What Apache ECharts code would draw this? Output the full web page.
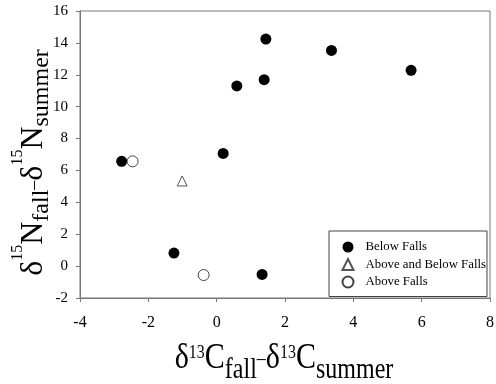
<!DOCTYPE html>
<html><head><meta charset="utf-8">
<script src="https://cdn.jsdelivr.net/npm/echarts@6/dist/echarts.min.js"></script>
<style>html,body{margin:0;padding:0;background:#fff}#c{width:496px;height:384px}</style>
</head><body><div id="c"></div>
<script>
const xTicks = [-4, -2, 0, 2, 4, 6, 8];
const yTicks = [-2, 0, 2, 4, 6, 8, 10, 12, 14, 16];
const seriesNames = ['Below Falls', 'Above and Below Falls', 'Above Falls'];
const belowFalls = [[1.44, 14.24], [3.36, 13.53], [5.69, 12.28], [1.39, 11.69], [0.59, 11.30], [0.19, 7.07], [-2.78, 6.57], [-1.25, 0.82], [1.33, -0.52]];
const aboveAndBelowFalls = [[-1.01, 5.34]];
const aboveFalls = [[-2.46, 6.57], [-0.38, -0.56]];

const FF = "'Liberation Serif','Times New Roman',serif";
const chart = echarts.init(document.getElementById('c'));

const xRich = {
  m: { fontFamily: FF, fontSize: 30, verticalAlign: 'top', padding: [0, 0, 0, 0], color: '#000' },
  sup: { fontFamily: FF, fontSize: 16, verticalAlign: 'top', padding: [2.4, 0, 0, 0], color: '#000' },
  sub: { fontFamily: FF, fontSize: 24, verticalAlign: 'top', padding: [13.3, 0, 0, 0], color: '#000' },
  d: { fontFamily: FF, fontSize: 18, verticalAlign: 'top', padding: [6.4, 0, 0, 0], color: '#000' }
};
const yRich = {
  m: { fontFamily: FF, fontSize: 32, verticalAlign: 'top', padding: [7.8, 0, 0, 0], color: '#000' },
  sup: { fontFamily: FF, fontSize: 16, verticalAlign: 'top', padding: [0, 0, 0, 0], color: '#000' },
  sub: { fontFamily: FF, fontSize: 24, verticalAlign: 'top', padding: [19.5, 0, 0, 0], color: '#000' },
  d: { fontFamily: FF, fontSize: 18, verticalAlign: 'top', padding: [15, 0, 0, 0], color: '#000' }
};

chart.setOption({
  animation: false,
  backgroundColor: '#fff',
  grid: { left: 80, right: 6, top: 11, bottom: 86, outerBoundsMode: 'none', containLabel: false,
          show: true, borderColor: '#777', borderWidth: 1, backgroundColor: 'transparent' },
  xAxis: {
    type: 'value', min: xTicks[0], max: xTicks[xTicks.length - 1], interval: 2,
    axisLine: { show: true, onZero: false, lineStyle: { color: '#777', width: 1 } },
    axisTick: { show: true, inside: false, length: 4, lineStyle: { color: '#777' } },
    axisLabel: { margin: 17, fontFamily: FF, fontSize: 16, color: '#000' },
    splitLine: { show: false }
  },
  yAxis: {
    type: 'value', min: yTicks[0], max: yTicks[yTicks.length - 1], interval: 2,
    axisLine: { show: true, onZero: false, lineStyle: { color: '#777', width: 1 } },
    axisTick: { show: true, inside: false, length: 4, lineStyle: { color: '#777' } },
    axisLabel: { margin: 12, fontFamily: FF, fontSize: 15, color: '#000' },
    splitLine: { show: false }
  },
  legend: {
    orient: 'vertical', left: 329, top: 231, padding: [9.5, 1, 8, 12.5],
    itemWidth: 11, itemHeight: 11, itemGap: 4.5,
    backgroundColor: '#fff', borderColor: '#444', borderWidth: 1, borderRadius: 0,
    textStyle: { fontFamily: FF, fontSize: 12.8, color: '#000', padding: [0, 0, 0, 7] },
    selectedMode: false,
    data: seriesNames
  },
  series: [
    { name: seriesNames[0], type: 'scatter', data: belowFalls, symbol: 'circle', symbolSize: 11,
      itemStyle: { color: '#000', borderWidth: 0, opacity: 1 } },
    { name: seriesNames[1], type: 'scatter', data: aboveAndBelowFalls, symbol: 'triangle', symbolSize: 10,
      itemStyle: { color: '#fff', borderColor: '#555', borderWidth: 1, opacity: 1 } },
    { name: seriesNames[2], type: 'scatter', data: aboveFalls, symbol: 'circle', symbolSize: 11,
      itemStyle: { color: '#fff', borderColor: '#444', borderWidth: 1, opacity: 1 } }
  ],
  graphic: [
    { type: 'text', x: 284, y: 362.8, scaleY: 1.2, z: 100,
      style: { text: '{m|δ}{sup|13}{m|C}{sub|fall}{d|–}{m|δ}{sup|13}{m|C}{sub|summer}',
               rich: xRich, align: 'center', verticalAlign: 'middle' } },
    { type: 'text', x: 32, y: 162.5, rotation: Math.PI / 2, z: 100,
      style: { text: '{m|δ}{sup|15}{m|N}{sub|fall}{d|–}{m|δ}{sup|15}{m|N}{sub|summer}',
               rich: yRich, align: 'center', verticalAlign: 'middle' } }
  ]
});
</script></body></html>
